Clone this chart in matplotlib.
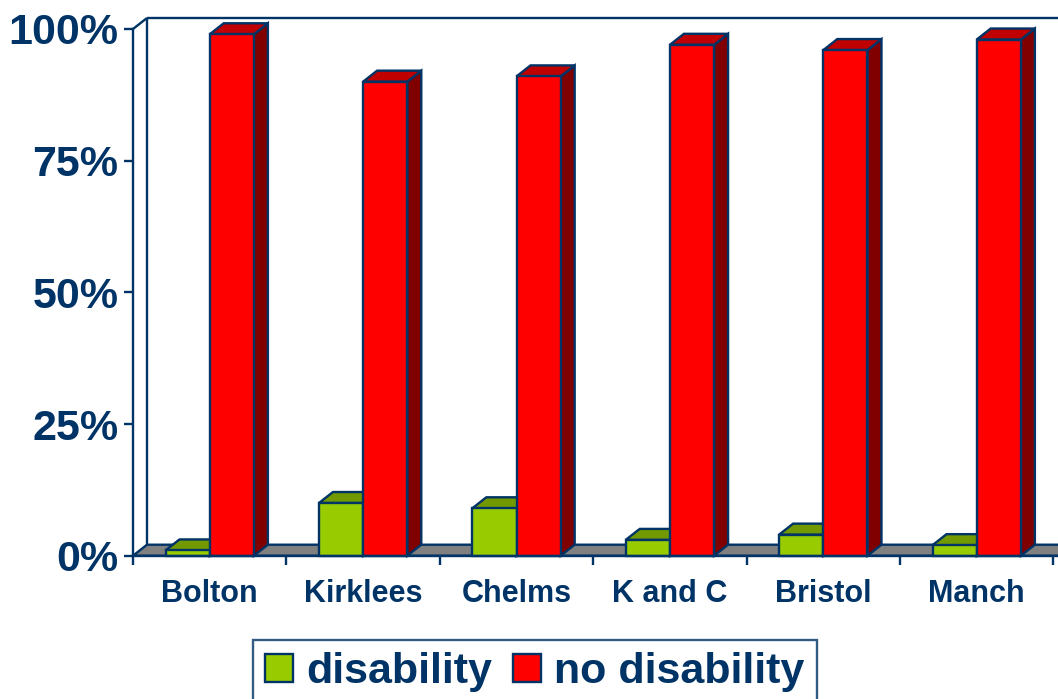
import matplotlib
matplotlib.use('Agg')
import matplotlib.pyplot as plt
import numpy as np
from matplotlib.patches import Polygon, Patch

categories = ['Bolton', 'Kirklees', 'Chelms', 'K and C', 'Bristol', 'Manch']
disability = [1, 10, 9, 3, 4, 2]
no_disability = [99, 90, 91, 97, 96, 98]
yticks = [0, 25, 50, 75, 100]
ytick_labels = ['0%', '25%', '50%', '75%', '100%']
series_names = ['disability', 'no disability']

NAVY = '#003366'
GREEN = ('#99CC00', '#739900', '#4D6600')
RED = ('#FF0000', '#C00000', '#800000')
FLOOR = '#808080'

plt.rcParams['font.family'] = ['Liberation Sans', 'DejaVu Sans']
plt.rcParams['font.weight'] = 'bold'

W, H = 1058, 699
fig = plt.figure(figsize=(W / 100, H / 100), dpi=100)
PX_CAT = 153.4
PX_PCT = 5.267
ax = fig.add_axes([133 / W, 143.3 / H, (W - 133) / W, (555.7 - 29) / H])
xmax = -0.5 + (W - 133) / PX_CAT
ax.set_xlim(-0.5, xmax)
ax.set_ylim(0, 100)
DX = 14 / PX_CAT
DY = 11 / PX_PCT
BW = 0.288
LW = 1.7

def poly(pts, color, z):
    p = Polygon(pts, closed=True, facecolor=color, edgecolor=NAVY, linewidth=LW,
                joinstyle='miter', clip_on=False, zorder=z)
    ax.add_patch(p)

# floor
poly([(-0.5, 0), (-0.5 + DX, DY), (xmax + 1, DY), (xmax + 1, 0)], FLOOR, 1)
# back wall lines
kw = dict(color=NAVY, linewidth=LW, clip_on=False, zorder=0.5, solid_capstyle='butt')
ax.plot([-0.5, -0.5 + DX], [100, 100 + DY], **kw)
ax.plot([-0.5 + DX, -0.5 + DX], [DY, 100 + DY], **kw)
ax.plot([-0.5 + DX, xmax + 1], [100 + DY, 100 + DY], **kw)

def bar3d(x0, h, colors, z):
    front, top, side = colors
    x1 = x0 + BW
    poly([(x1, 0), (x1 + DX, DY), (x1 + DX, h + DY), (x1, h)], side, z)
    poly([(x0, h), (x1, h), (x1 + DX, h + DY), (x0 + DX, h + DY)], top, z)
    poly([(x0, 0), (x1, 0), (x1, h), (x0, h)], front, z)

z = 2
for i in range(len(categories)):
    bar3d(i - BW, disability[i], GREEN, z); z += 0.01
    bar3d(i, no_disability[i], RED, z); z += 0.01

for s in ['top', 'right']:
    ax.spines[s].set_visible(False)
for s in ['left', 'bottom']:
    ax.spines[s].set_color(NAVY)
    ax.spines[s].set_linewidth(LW)
    ax.spines[s].set_zorder(5)

ax.set_yticks(yticks)
ax.set_yticklabels(ytick_labels, fontsize=31, fontweight='bold', color=NAVY)
ax.tick_params(axis='y', direction='out', length=6.5, width=LW, color=NAVY, pad=4)
ax.set_xticks(np.arange(len(categories) + 1) - 0.5)
ax.set_xticklabels([])
ax.tick_params(axis='x', which='major', direction='out', length=6.5, width=LW, color=NAVY)
ax.set_xticks(np.arange(len(categories)), minor=True)
ax.set_xticklabels(categories, minor=True, fontsize=22, fontweight='bold', color=NAVY)
ax.tick_params(axis='x', which='minor', length=0, pad=17)

handles = [Patch(facecolor=GREEN[0], edgecolor=NAVY, linewidth=LW),
           Patch(facecolor=RED[0], edgecolor=NAVY, linewidth=LW)]
leg = fig.legend(handles, series_names, loc='upper left',
                 bbox_to_anchor=(253 / W, (H - 640) / H), bbox_transform=fig.transFigure,
                 ncol=2, frameon=True, fancybox=False, borderaxespad=0,
                 prop={'size': 31, 'weight': 'bold', 'family': 'Liberation Sans'},
                 handlelength=0.65, handleheight=0.65, handletextpad=0.3,
                 columnspacing=0.5, borderpad=0.28)
leg.get_frame().set_edgecolor(NAVY)
leg.get_frame().set_linewidth(LW)
for t in leg.get_texts():
    t.set_color(NAVY)

fig.savefig('out.png', dpi=100)
